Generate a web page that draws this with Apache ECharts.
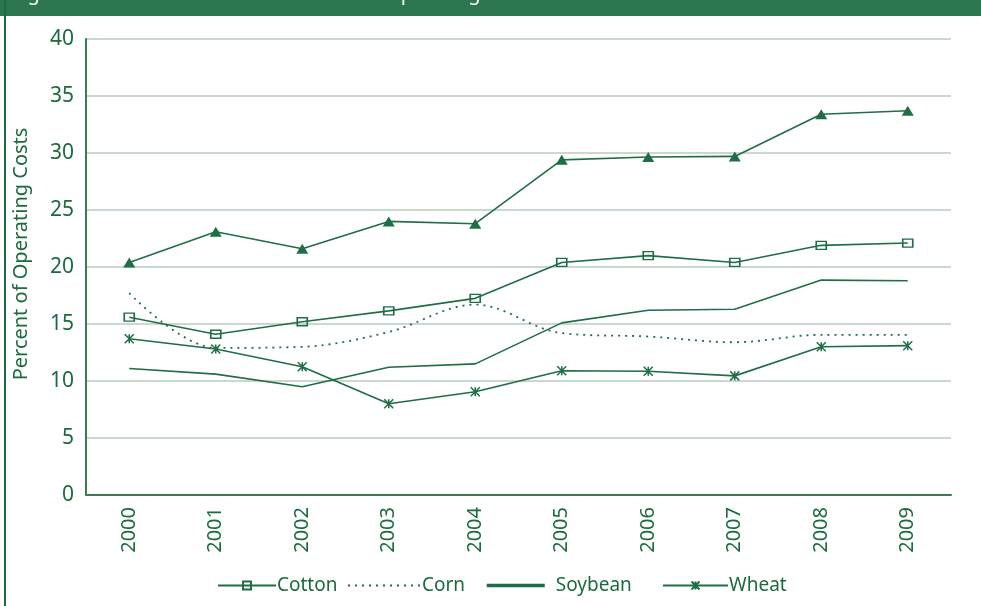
<!DOCTYPE html>
<html>
<head>
<meta charset="utf-8">
<script src="https://cdn.jsdelivr.net/npm/echarts@6/dist/echarts.min.js"></script>
<style>
html,body{margin:0;padding:0;background:#fff;}
#c{width:981px;height:606px;}
</style>
</head>
<body>
<div id="c"></div>
<script>
const years = ['2000','2001','2002','2003','2004','2005','2006','2007','2008','2009'];
const triangleSeries = [20.4, 23.1, 21.6, 24.0, 23.8, 29.4, 29.65, 29.7, 33.4, 33.7];
const cotton = [15.6, 14.1, 15.2, 16.15, 17.25, 20.4, 21.0, 20.4, 21.9, 22.1];
const corn = [17.7, 12.9, 13.0, 14.3, 16.7, 14.2, 13.9, 13.4, 14.05, 14.05];
const soybean = [11.1, 10.6, 9.5, 11.2, 11.5, 15.1, 16.2, 16.3, 18.85, 18.8];
const wheat = [13.7, 12.8, 11.25, 8.0, 9.05, 10.9, 10.85, 10.45, 13.0, 13.1];
const legendNames = ['Cotton', 'Corn', 'Soybean', 'Wheat'];
const yAxisTitle = 'Percent of Operating Costs';
const titleText = 'Figure 2. Fertilizer Costs as a Percent of Operating Costs';

const GREEN = '#1f6e45';
const TXT = '#1b6b3e';
const FONT = '"Noto Sans", "DejaVu Sans", sans-serif';
const asterisk = 'path://M0,0L10,10M10,0L0,10M5,0L5,10';

function legendCfg(item, left, width, textPadLeft) {
  return {
    data: [item],
    top: 576,
    left: left,
    itemWidth: width,
    itemHeight: 10,
    itemGap: 0,
    padding: 0,
    textStyle: {fontFamily: FONT, fontSize: 19, color: TXT, padding: [0, 0, 0, textPadLeft]}
  };
}

const chart = echarts.init(document.getElementById('c'), null, {renderer: 'canvas'});
chart.setOption({
  animation: false,
  backgroundColor: '#fff',
  textStyle: {fontFamily: FONT, color: TXT},
  graphic: [
    {type: 'rect', left: 0, top: 0, shape: {width: 981, height: 16}, style: {fill: '#2c774f'}, z: 10},
    {type: 'rect', left: 4, top: 0, shape: {width: 2, height: 606}, style: {fill: '#1f6b3f'}, z: 10},
    {type: 'text', x: 12, y: 4, style: {text: titleText, fill: '#ffffff', font: '20px ' + FONT, verticalAlign: 'bottom', align: 'left'}, z: 11},
    {type: 'text', x: 21, y: 254, rotation: Math.PI / 2,
      style: {text: yAxisTitle, fill: TXT, font: '20px ' + FONT, align: 'center', verticalAlign: 'middle'}}
  ],
  grid: {left: 86, right: 30, top: 39, bottom: 111, containLabel: false},
  legend: [
    legendCfg(legendNames[0], 217, 58, -4),
    legendCfg({name: legendNames[1], itemStyle: {color: 'rgba(0,0,0,0)', borderWidth: 0, opacity: 0}}, 347, 73, -4),
    legendCfg({name: legendNames[2], itemStyle: {color: 'rgba(0,0,0,0)', borderWidth: 0, opacity: 0}, lineStyle: {width: 3.5}}, 485, 58, 6),
    legendCfg(legendNames[3], 662, 65, -4)
  ],
  xAxis: {
    type: 'category',
    data: years,
    boundaryGap: true,
    axisLine: {lineStyle: {color: '#3a7d55', width: 2}},
    axisTick: {show: false},
    axisLabel: {rotate: 90, margin: 12, fontSize: 20, color: TXT, fontFamily: FONT}
  },
  yAxis: {
    type: 'value',
    min: 0, max: 40, interval: 5,
    axisLine: {show: true, lineStyle: {color: '#3a7d55', width: 2}},
    axisTick: {show: false},
    axisLabel: {margin: 12, fontSize: 21, color: TXT, fontFamily: FONT},
    splitLine: {lineStyle: {color: '#b9cbbd', width: 1.5}}
  },
  series: [
    {
      name: 'Triangle', type: 'line', data: triangleSeries,
      symbol: 'triangle', symbolSize: [12, 10], showSymbol: true,
      lineStyle: {color: GREEN, width: 1.6},
      itemStyle: {color: GREEN}
    },
    {
      name: 'Cotton', type: 'line', data: cotton,
      symbol: 'rect', symbolSize: [10, 8],
      lineStyle: {color: GREEN, width: 1.6},
      itemStyle: {color: 'rgba(255,255,255,0)', borderColor: GREEN, borderWidth: 1.5}
    },
    {
      name: 'Corn', type: 'line', data: corn, smooth: 0.35,
      symbol: 'none',
      lineStyle: {color: GREEN, width: 1.8, type: [2, 5]},
      itemStyle: {color: GREEN}
    },
    {
      name: 'Soybean', type: 'line', data: soybean,
      symbol: 'none',
      lineStyle: {color: GREEN, width: 1.6},
      itemStyle: {color: GREEN}
    },
    {
      name: 'Wheat', type: 'line', data: wheat,
      symbol: asterisk, symbolSize: 9,
      lineStyle: {color: GREEN, width: 1.6},
      itemStyle: {color: GREEN, borderColor: GREEN, borderWidth: 1.5}
    }
  ]
});
</script>
</body>
</html>
